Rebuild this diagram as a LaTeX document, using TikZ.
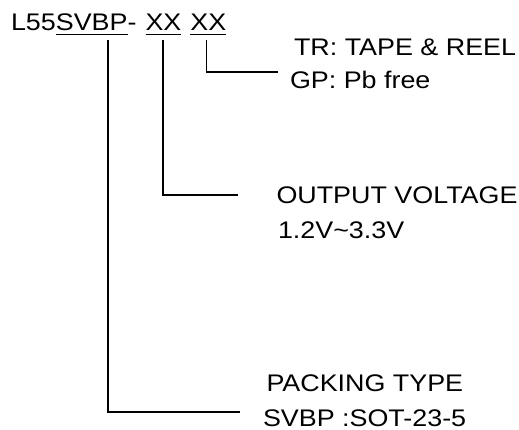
\documentclass[tikz,border=0pt]{standalone}
\usepackage{fontspec}
\setmainfont{Liberation Sans}[FakeStretch=1.12]
\usetikzlibrary{calc}
\begin{document}
\begin{tikzpicture}[x=1pt,y=-1pt,
  txt/.style={anchor=base west,inner sep=0pt,outer sep=0pt,font=\fontsize{24}{28}\selectfont},
  part/.style={txt,anchor=base west},
  lead/.style={line width=1.9pt,line cap=butt},
  uline/.style={line width=1.9pt}]
\useasboundingbox (0,0) rectangle (519,430);
% title in parts
\node[part] (p1) at (11,31) {L55};
\node[part] (p2) at (p1.base east) {SVBP};
\node[part] (p3) at (p2.base east) {-};
\node[part] (p4) at ($(p3.base east)+(9,0)$) {XX};
\node[part] (p6) at ($(p4.base east)+(9,0)$) {XX};
% underlines
\draw[uline] ($(p2.base west)+(0,3.5)$) -- ($(p2.base east)+(0,3.5)$);
\draw[uline] ($(p4.base west)+(0,3.5)$) -- ($(p4.base east)+(0,3.5)$);
\draw[uline] ($(p6.base west)+(0,3.5)$) -- ($(p6.base east)+(0,3.5)$);
% labels
\node[txt] (tr) at (294,56) {TR: TAPE \& REEL};
\node[txt] (gp) at (290,89) {GP: Pb free};
\node[txt] (out) at (276.5,203.5) {OUTPUT VOLTAGE};
\node[txt] (volt) at (278,238.5) {1.2V\textasciitilde 3.3V};
\node[txt] (pack) at (266.5,391) {PACKING TYPE};
\node[txt] (svbp) at (263,426) {SVBP :SOT-23-5};
% connector ends
\coordinate (e1) at (278,72);
\coordinate (e2) at (238,195);
\coordinate (e3) at (240,412);
% connectors
\draw[lead] ($(p6.base west)!0.45!(p6.base east)+(0,9.5)$) |- (e1);
\draw[lead] ($(p4.base west)!0.5!(p4.base east)+(0,9.5)$) |- (e2);
\draw[lead] ($(p2.base west)!0.73!(p2.base east)+(0,9.5)$) |- (e3);
\end{tikzpicture}
\end{document}
